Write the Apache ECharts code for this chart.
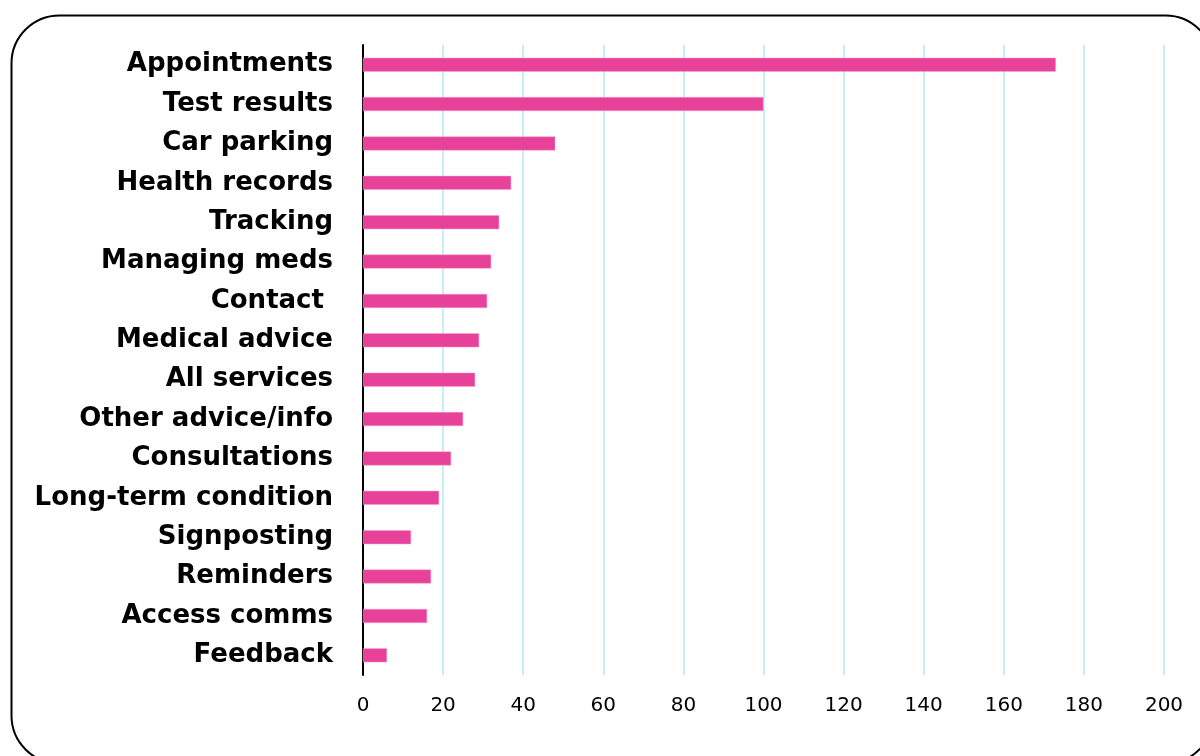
<!DOCTYPE html>
<html><head><meta charset="utf-8">
<script src="https://cdn.jsdelivr.net/npm/echarts@6/dist/echarts.min.js"></script>
<style>html,body{margin:0;padding:0;background:#fff}#c{width:1200px;height:756px}</style>
</head><body><div id="c"></div>
<script>
const categories = ["Appointments","Test results","Car parking","Health records","Tracking","Managing meds","Contact ","Medical advice","All services","Other advice/info","Consultations","Long-term condition","Signposting","Reminders","Access comms","Feedback"];
const values = [173,100,48,37,34,32,31,29,28,25,22,19,12,17,16,6];
const xTicks = {min:0,max:200,interval:20};

const chart = echarts.init(document.getElementById('c'));
chart.setOption({
  animation:false,
  graphic:[{type:'rect',shape:{x:11.5,y:15.5,width:1202,height:748,r:48},style:{fill:'none',stroke:'#000',lineWidth:2},z:-1}],
  grid:{left:363,right:36,top:45,bottom:81},
  xAxis:{type:'value',min:xTicks.min,max:xTicks.max,interval:xTicks.interval,
    axisLine:{show:false},axisTick:{show:false},
    axisLabel:{color:'#000',fontSize:20,fontFamily:'DejaVu Sans',margin:21},
    splitLine:{lineStyle:{color:'#C8EEFB',width:2}}},
  yAxis:{type:'category',data:categories,inverse:true,
    axisLine:{lineStyle:{color:'#000',width:2}},axisTick:{show:false},
    axisLabel:{color:'#000',fontSize:26,fontWeight:'bold',fontFamily:'DejaVu Sans',margin:30,padding:[4,0,0,0]}},
  series:[{type:'bar',data:values,barWidth:14,itemStyle:{color:'#E8419A',borderColor:'#F2A0C8',borderWidth:0.5}}]
});
</script></body></html>
